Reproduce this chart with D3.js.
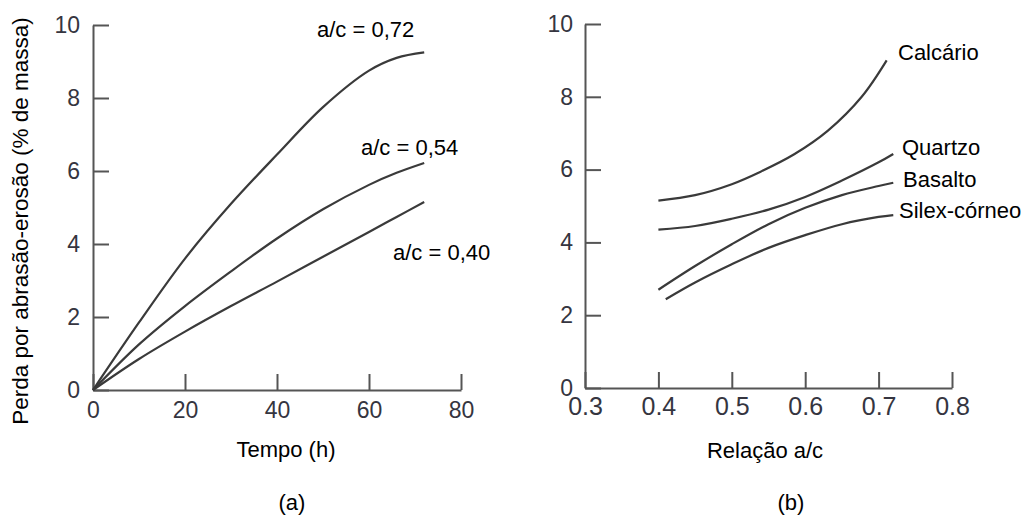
<!DOCTYPE html>
<html>
<head>
<meta charset="utf-8">
<script src="https://cdn.jsdelivr.net/npm/d3@7"></script>
<style>
  body { margin: 0; background: #fff; }
  svg text { font-family: "Liberation Sans", Arial, sans-serif; }
  .axis path, .axis line { stroke: #555; stroke-width: 2; }
  .axis text { fill: #353540; }
</style>
</head>
<body>
<svg id="chart" width="1027" height="518"></svg>
<script>
// (a) perda vs tempo
var tempo = [0, 10, 20, 30, 40, 50, 60, 66, 72];
var perda072 = [0, 1.85, 3.6, 5.1, 6.45, 7.75, 8.75, 9.1, 9.25];
var perda054 = [0, 1.25, 2.3, 3.25, 4.15, 4.95, 5.62, 5.95, 6.22];
var perda040 = [0, 0.85, 1.6, 2.3, 2.97, 3.65, 4.33, 4.74, 5.15];
var serieA = ["a/c = 0,72", "a/c = 0,54", "a/c = 0,40"];
var ticksTempo = [0, 20, 40, 60, 80];
var ticksPerda = [0, 2, 4, 6, 8, 10];

// (b) perda vs relacao a/c
var relCalcario = [0.40, 0.45, 0.50, 0.54, 0.585, 0.631, 0.677, 0.711];
var perdaCalcario = [5.15, 5.3, 5.6, 5.95, 6.42, 7.07, 8.0, 9.0];
var relQuartzo = [0.40, 0.45, 0.50, 0.55, 0.60, 0.65, 0.70, 0.72];
var perdaQuartzo = [4.35, 4.45, 4.65, 4.9, 5.25, 5.7, 6.2, 6.43];
var relBasalto = [0.40, 0.45, 0.50, 0.55, 0.60, 0.65, 0.70, 0.72];
var perdaBasalto = [2.7, 3.35, 3.95, 4.5, 4.95, 5.3, 5.55, 5.64];
var relSilex = [0.41, 0.45, 0.50, 0.55, 0.60, 0.65, 0.70, 0.72];
var perdaSilex = [2.44, 2.9, 3.4, 3.85, 4.2, 4.5, 4.7, 4.75];
var agregados = ["Calcário", "Quartzo", "Basalto", "Silex-córneo"];
var ticksRel = [0.3, 0.4, 0.5, 0.6, 0.7, 0.8];

var svg = d3.select("#chart");

function zip(xs, ys) {
  return xs.map(function(x, i) { return [x, ys[i]]; });
}

// ---------- painel (a)
var xA = d3.scaleLinear().domain([0, 80]).range([93, 461]);
var yA = d3.scaleLinear().domain([0, 10]).range([390, 25]);

var gxA = svg.append("g").attr("class", "axis")
    .attr("transform", "translate(0,390)")
    .call(d3.axisBottom(xA).tickValues(ticksTempo).tickSize(-16).tickSizeOuter(0).tickPadding(12));
gxA.selectAll("text").style("font-size", "23px");

var gyA = svg.append("g").attr("class", "axis")
    .attr("transform", "translate(93,0)")
    .call(d3.axisLeft(yA).tickValues(ticksPerda).tickSize(-16).tickSizeOuter(0).tickPadding(13));
gyA.selectAll("text").style("font-size", "23px");

var lineA = d3.line()
    .x(function(d) { return xA(d[0]); })
    .y(function(d) { return yA(d[1]); })
    .curve(d3.curveCatmullRom.alpha(0.5));

svg.append("g").selectAll("path")
    .data([perda072, perda054, perda040])
    .enter().append("path")
    .attr("d", function(d) { return lineA(zip(tempo, d)); })
    .attr("fill", "none")
    .attr("stroke", "#3a3a3a")
    .attr("stroke-width", 2.2);

var labA = [[317, 37], [361, 155], [393, 260]];
svg.append("g").selectAll("text")
    .data(serieA)
    .enter().append("text")
    .attr("x", function(d, i) { return labA[i][0]; })
    .attr("y", function(d, i) { return labA[i][1]; })
    .style("font-size", "22px")
    .text(function(d) { return d; });

svg.append("text")
    .attr("transform", "translate(28,221) rotate(-90)")
    .attr("text-anchor", "middle")
    .style("font-size", "22.5px")
    .text("Perda por abrasão-erosão (% de massa)");

svg.append("text")
    .attr("x", 286).attr("y", 457)
    .attr("text-anchor", "middle")
    .style("font-size", "22px")
    .text("Tempo (h)");

svg.append("text")
    .attr("x", 292).attr("y", 510)
    .attr("text-anchor", "middle")
    .style("font-size", "22px")
    .text("(a)");

// ---------- painel (b)
var xB = d3.scaleLinear().domain([0.3, 0.8]).range([585, 952]);
var yB = d3.scaleLinear().domain([0, 10]).range([388, 24]);

var gxB = svg.append("g").attr("class", "axis")
    .attr("transform", "translate(0,388)")
    .call(d3.axisBottom(xB).tickValues(ticksRel).tickFormat(d3.format(".1f")).tickSize(-16).tickSizeOuter(0).tickPadding(9));
gxB.selectAll("text").style("font-size", "25px");

var gyB = svg.append("g").attr("class", "axis")
    .attr("transform", "translate(585,0)")
    .call(d3.axisLeft(yB).tickValues(ticksPerda).tickSize(-16).tickSizeOuter(0).tickPadding(12));
gyB.selectAll("text").style("font-size", "23px");

var lineB = d3.line()
    .x(function(d) { return xB(d[0]); })
    .y(function(d) { return yB(d[1]); })
    .curve(d3.curveCatmullRom.alpha(0.5));

svg.append("g").selectAll("path")
    .data([zip(relCalcario, perdaCalcario), zip(relQuartzo, perdaQuartzo),
           zip(relBasalto, perdaBasalto), zip(relSilex, perdaSilex)])
    .enter().append("path")
    .attr("d", lineB)
    .attr("fill", "none")
    .attr("stroke", "#3a3a3a")
    .attr("stroke-width", 2.2);

var labB = [[898, 60], [902, 155], [903, 187], [899, 218]];
svg.append("g").selectAll("text")
    .data(agregados)
    .enter().append("text")
    .attr("x", function(d, i) { return labB[i][0]; })
    .attr("y", function(d, i) { return labB[i][1]; })
    .style("font-size", "22px")
    .text(function(d) { return d; });

svg.append("text")
    .attr("x", 765).attr("y", 458)
    .attr("text-anchor", "middle")
    .style("font-size", "22px")
    .text("Relação a/c");

svg.append("text")
    .attr("x", 791).attr("y", 510)
    .attr("text-anchor", "middle")
    .style("font-size", "22px")
    .text("(b)");
</script>
</body>
</html>
